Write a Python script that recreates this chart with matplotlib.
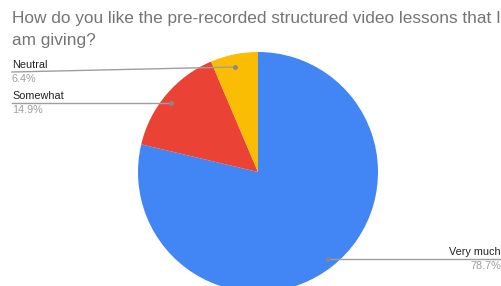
import matplotlib
matplotlib.use("Agg")
import matplotlib.pyplot as plt

categories = ["Very much", "Somewhat", "Neutral"]
values = [78.7, 14.9, 6.4]
pct_labels = ["78.7%", "14.9%", "6.4%"]
colors = ["#4285F4", "#EA4335", "#FBBC04"]

W, H = 502, 286
fig = plt.figure(figsize=(W / 100, H / 100), dpi=100)
ax = fig.add_axes([0, 0, 1, 1])
# y axis is inverted below, so counterclock=True draws clockwise on screen
ax.pie(values, colors=colors, startangle=-90, counterclock=True,
       center=(258, 172), radius=120, wedgeprops=dict(linewidth=0))
ax.set_xlim(0, W)
ax.set_ylim(H, 0)
ax.set_aspect('equal')
ax.axis('off')

font = "Liberation Sans"
ax.text(12, 18, "How do you like the pre-recorded structured video lessons that I",
        fontsize=12.4, color="#757575", family=font, va="center", ha="left")
ax.text(12, 40, "am giving?", fontsize=12.4, color="#757575", family=font, va="center", ha="left")

line_c = "#9e9e9e"
fs = 7.8
# Neutral
ax.plot([12, 235], [72, 67], color=line_c, lw=1)
ax.plot([235], [67], 'o', color="#888888", ms=2.5)
ax.text(12, 65, categories[2], fontsize=fs, color="#222222", family=font, va="center", ha="left")
ax.text(12, 79, pct_labels[2], fontsize=fs, color="#9e9e9e", family=font, va="center", ha="left")
# Somewhat
ax.plot([12, 171], [103, 103], color=line_c, lw=1)
ax.plot([171], [103], 'o', color="#888888", ms=2.5)
ax.text(12, 96, categories[1], fontsize=fs, color="#222222", family=font, va="center", ha="left")
ax.text(12, 110, pct_labels[1], fontsize=fs, color="#9e9e9e", family=font, va="center", ha="left")
# Very much
ax.plot([328, 502], [259, 259], color=line_c, lw=1)
ax.plot([328], [259], 'o', color="#888888", ms=2.5)
ax.text(501, 252, categories[0], fontsize=fs, color="#222222", family=font, va="center", ha="right")
ax.text(501, 266, pct_labels[0], fontsize=fs, color="#9e9e9e", family=font, va="center", ha="right")

fig.savefig("out.png", dpi=100)
